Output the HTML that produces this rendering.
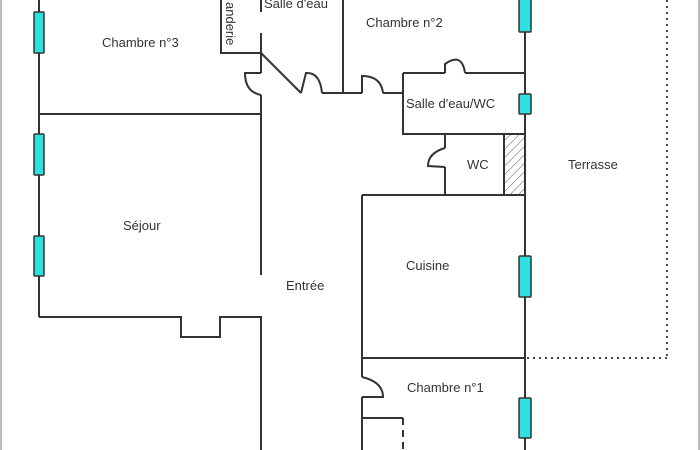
<!DOCTYPE html>
<html><head><style>
html,body{margin:0;padding:0;background:#fff;width:700px;height:450px;overflow:hidden}
svg{display:block}
text{font-family:"Liberation Sans",sans-serif;font-size:13px;fill:#333}
</style></head><body>
<svg width="700" height="450" viewBox="0 0 700 450" xmlns="http://www.w3.org/2000/svg">
<defs><pattern id="h" width="6" height="6" patternUnits="userSpaceOnUse" patternTransform="rotate(45)"><line x1="0" y1="0" x2="0" y2="6" stroke="#555" stroke-width="1"/></pattern></defs>
<line x1="1" y1="0" x2="1" y2="450" stroke="#bbb" stroke-width="2"/>
<line x1="699" y1="0" x2="699" y2="450" stroke="#bbb" stroke-width="2"/>
<g stroke="#333" stroke-width="2" fill="none">
<!-- left wall -->
<line x1="39" y1="0" x2="39" y2="317"/>
<line x1="39" y1="114" x2="261" y2="114"/>
<polyline points="39,317 181,317 181,337 220,337 220,317 261,317 261,450"/>
<!-- lingerie -->
<polyline points="221,0 221,53 261,53"/>
<line x1="261" y1="0" x2="261" y2="12"/>
<polyline points="261,33 261,73"/>
<path d="M261,73 L245,73 Q245,92 261,95"/>
<line x1="261" y1="95" x2="261" y2="275"/>
<!-- diagonal -->
<line x1="261" y1="53" x2="301" y2="93"/>
<path d="M301,93 L306,73 Q320,72 322,93"/>
<polyline points="322,93 362,93"/>
<line x1="343" y1="0" x2="343" y2="93"/>
<path d="M362,93 L362,76 Q381,76 383,93"/>
<line x1="383" y1="93" x2="403" y2="93"/>
<!-- salle d'eau/wc -->
<polyline points="403,73 445,73"/>
<path d="M445,73 L445,64 Q462,52 465,73"/>
<polyline points="465,73 525,73"/>
<polyline points="403,73 403,134 525,134"/>
<!-- WC -->
<polyline points="445,134 445,148"/>
<path d="M445,148 Q428,153 428,166 L445,167"/>
<line x1="445" y1="167" x2="445" y2="195"/>
<rect x="504" y="134" width="21" height="61" fill="url(#h)"/>
<!-- cuisine -->
<line x1="362" y1="195" x2="525" y2="195"/>
<line x1="362" y1="195" x2="362" y2="377"/>
<line x1="362" y1="358" x2="525" y2="358"/>
<path d="M362,377 Q383,382 383,397 L362,397"/>
<line x1="362" y1="397" x2="362" y2="450"/>
<polyline points="362,418 403,418"/>
<line x1="403" y1="418" x2="403" y2="450" stroke-dasharray="7,5"/>
<!-- right wall -->
<line x1="525" y1="0" x2="525" y2="450"/>
</g>
<g stroke="#444" stroke-width="2" fill="none" stroke-dasharray="2,4">
<line x1="527" y1="358" x2="667" y2="358"/>
<line x1="667" y1="0" x2="667" y2="358"/>
</g>
<g fill="#2ee0e0" stroke="#333" stroke-width="1.5">
<rect x="34" y="12" width="10" height="41" rx="1"/>
<rect x="34" y="134" width="10" height="41" rx="1"/>
<rect x="34" y="236" width="10" height="40" rx="1"/>
<rect x="519" y="-2" width="12" height="34" rx="1"/>
<rect x="519" y="94" width="12" height="20" rx="1"/>
<rect x="519" y="256" width="12" height="41" rx="1"/>
<rect x="519" y="398" width="12" height="40" rx="1"/>
</g>
<text x="102" y="47">Chambre n°3</text>
<text x="366" y="27">Chambre n°2</text>
<text x="264" y="8">Salle d'eau</text>
<text x="406" y="108">Salle d'eau/WC</text>
<text x="467" y="169">WC</text>
<text x="568" y="169">Terrasse</text>
<text x="123" y="230">Séjour</text>
<text x="286" y="290">Entrée</text>
<text x="406" y="270">Cuisine</text>
<text x="407" y="392">Chambre n°1</text>
<text transform="translate(226,2) rotate(90)">anderie</text>
</svg>
</body></html>
